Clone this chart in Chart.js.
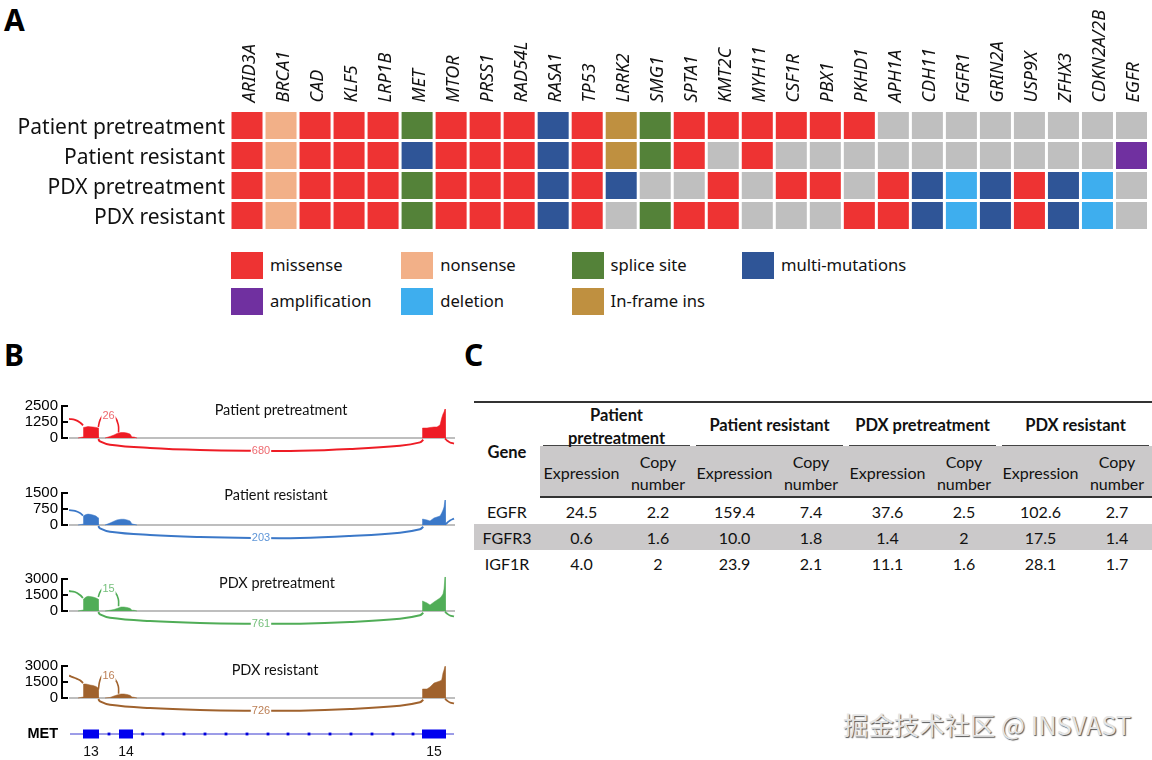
<!DOCTYPE html>
<html>
<head>
<meta charset="utf-8">
<script src="https://cdn.jsdelivr.net/npm/chart.js@4/dist/chart.umd.min.js"></script>
<style>
  html, body { margin: 0; padding: 0; background: #fff; }
  #page { position: relative; width: 1152px; height: 760px; overflow: hidden; color: #111; }
  canvas { position: absolute; left: 0; }
  .panel { position: absolute; font: bold 30px "Noto Sans", sans-serif; line-height: 34px; color: #000; }
  #legend { position: absolute; left: 231px; top: 252px; display: grid; grid-template-columns: repeat(4, 170.3px); grid-auto-rows: 36px; font: 16.6px "Noto Sans", sans-serif; }
  #legend div { display: flex; align-items: flex-start; line-height: 25px; white-space: nowrap; }
  #legend i { display: block; width: 32px; height: 27px; margin-right: 7px; }
  #tableC { position: absolute; left: 474px; top: 401px; width: 678px; border-collapse: separate; border-spacing: 0; table-layout: fixed; font: 16px Lato, sans-serif; text-align: center; border-top: 2px solid #333; }
  #tableC td, #tableC th { padding: 0; }
  #tableC th { font-weight: bold; font-size: 16.5px; line-height: 23px; }
  #tableC .group > div { height: 43px; margin: 0 3px; padding-top: 2px; border-bottom: 1.5px solid #444; display: flex; align-items: center; justify-content: center; box-sizing: border-box; overflow: visible; }
  #tableC .sub td { height: 46px; padding-top: 4px; background: #cbc9ca; border-bottom: 2px solid #333; line-height: 22px; }
  #tableC .body td { height: 25px; padding-top: 1px; line-height: 25px; }
  #tableC .band td { background: #cbc9ca; }
  #watermark { position: absolute; left: 843px; top: 706px; font: 25.4px "Noto Sans CJK SC", sans-serif; color: #e4e4e4; text-shadow: 1px 1px 1px #555; white-space: nowrap; }
</style>
</head>
<body>
<div id="page">
  <div class="panel" style="left:4px;top:3px">A</div>
  <div class="panel" style="left:4px;top:338px">B</div>
  <div class="panel" style="left:464px;top:338px">C</div>
  <canvas id="heatmap" width="1152" height="240" style="top:0"></canvas>
  <div id="legend"></div>
  <canvas id="sashimi1" width="455" height="84" style="top:384px"></canvas>
  <canvas id="sashimi2" width="455" height="84" style="top:471px"></canvas>
  <canvas id="sashimi3" width="455" height="84" style="top:557px"></canvas>
  <canvas id="sashimi4" width="455" height="84" style="top:644px"></canvas>
  <canvas id="metTrack" width="455" height="40" style="top:720px"></canvas>
  <table id="tableC"></table>
  <div id="watermark">掘金技术社区 @ INSVAST</div>
</div>
<script>
// Panel A data
const genes = ['ARID3A', 'BRCA1', 'CAD', 'KLF5', 'LRP1B', 'MET', 'MTOR', 'PRSS1', 'RAD54L', 'RASA1', 'TP53', 'LRRK2', 'SMG1', 'SPTA1', 'KMT2C', 'MYH11', 'CSF1R', 'PBX1', 'PKHD1', 'APH1A', 'CDH11', 'FGFR1', 'GRIN2A', 'USP9X', 'ZFHX3', 'CDKN2A/2B', 'EGFR'];
const samples = ['Patient pretreatment', 'Patient resistant', 'PDX pretreatment', 'PDX resistant'];
const patientPreCells = ['missense', 'nonsense', 'missense', 'missense', 'missense', 'splice site', 'missense', 'missense', 'missense', 'multi-mutations', 'missense', 'In-frame ins', 'splice site', 'missense', 'missense', 'missense', 'missense', 'missense', 'missense', '', '', '', '', '', '', '', ''];
const patientResCells = ['missense', 'nonsense', 'missense', 'missense', 'missense', 'multi-mutations', 'missense', 'missense', 'missense', 'multi-mutations', 'missense', 'In-frame ins', 'splice site', 'missense', '', 'missense', '', '', '', '', '', '', '', '', '', '', 'amplification'];
const pdxPreCells = ['missense', 'nonsense', 'missense', 'missense', 'missense', 'splice site', 'missense', 'missense', 'missense', 'multi-mutations', 'missense', 'multi-mutations', '', '', 'missense', '', 'missense', 'missense', '', 'missense', 'multi-mutations', 'deletion', 'multi-mutations', 'missense', 'multi-mutations', 'deletion', ''];
const pdxResCells = ['missense', 'nonsense', 'missense', 'missense', 'missense', 'splice site', 'missense', 'missense', 'missense', 'multi-mutations', 'missense', '', 'splice site', 'missense', 'missense', '', '', '', 'missense', 'missense', 'multi-mutations', 'deletion', 'multi-mutations', 'missense', 'multi-mutations', 'deletion', ''];
const legendOrder = ['missense', 'nonsense', 'splice site', 'multi-mutations', 'amplification', 'deletion', 'In-frame ins'];
const mutationColors = { 'missense': '#ee3333', 'nonsense': '#f2b088', 'splice site': '#548239', 'multi-mutations': '#2f5597', 'amplification': '#7030a0', 'deletion': '#3eaeee', 'In-frame ins': '#bf9040', '': '#bfbfbf' };

// Panel B data, x is position along the MET region, y is read count
const leftTailX = [0, 6, 11, 14];
const exon13X = [9, 14, 14.5, 17, 19, 21, 24, 27, 29, 29.5];
const exon14X = [36, 41, 45, 48, 52, 55, 58, 61, 63, 65, 68];
const exon15X = [353, 353.5, 358, 361, 365, 368, 371, 372.7, 374, 375, 376, 376.5];
const skipArcX = [29.3, 31, 41, 81, 131, 183, 231, 281, 331, 351, 354.3];
const loopArcX = [29.3, 31, 34.3, 39.3, 46, 49.3, 49.6];
const rightTailX = [376, 378, 381, 385];

const p1Ticks = [0, 1250, 2500];
const p1Tail = [1500, 1420, 1220, 990];
const p1Exon13 = [0, 80, 820, 860, 900, 880, 860, 830, 790, 0];
const p1Exon14 = [0, 120, 235, 350, 430, 430, 390, 310, 80, 80, 0];
const p1Exon15 = [0, 780, 780, 820, 860, 860, 1010, 1560, 1870, 2030, 2260, 0];
const p1SkipArc = [-78, -260, -520, -780, -940, -1000, -1000, -860, -600, -340, -130];
const p1LoopArc = [860, 1400, 1800, 1930, 1640, 1015, 430];
const p1RightTail = [-40, -195, -350, -430];

const p2Ticks = [0, 750, 1500];
const p2Tail = [700, 660, 560, 445];
const p2Exon13 = [0, 40, 430, 490, 510, 500, 470, 420, 340, 0];
const p2Exon14 = [0, 90, 180, 240, 270, 270, 240, 190, 50, 30, 0];
const p2Exon15 = [0, 280, 235, 190, 330, 375, 420, 560, 700, 845, 1170, 0];
const p2SkipArc = [-47, -155, -315, -470, -565, -610, -610, -515, -360, -200, -80];
const p2LoopArc = [];
const p2RightTail = [25, 95, 210, 300];

const p3Ticks = [0, 1500, 3000];
const p3Tail = [1875, 1780, 1500, 1220];
const p3Exon13 = [0, 90, 1120, 1310, 1380, 1360, 1310, 1220, 1120, 0];
const p3Exon14 = [0, 70, 140, 230, 375, 375, 330, 250, 70, 70, 0];
const p3Exon15 = [0, 940, 750, 560, 845, 1030, 1220, 1400, 1600, 2060, 3190, 0];
const p3SkipArc = [-94, -310, -630, -940, -1125, -1190, -1190, -1030, -720, -400, -160];
const p3LoopArc = [1310, 1780, 2160, 2320, 1780, 1125, 440];
const p3RightTail = [-50, -235, -420, -515];

const p4Ticks = [0, 1500, 3000];
const p4Tail = [2090, 1875, 1660, 1400];
const p4Exon13 = [0, 90, 1310, 1310, 1270, 1220, 1170, 1080, 940, 0];
const p4Exon14 = [0, 50, 190, 280, 375, 375, 330, 250, 90, 70, 0];
const p4Exon15 = [0, 845, 845, 1030, 1400, 1500, 1600, 1690, 2340, 2625, 2970, 0];
const p4SkipArc = [-94, -310, -630, -940, -1125, -1190, -1190, -1030, -720, -400, -160];
const p4LoopArc = [780, 1690, 2250, 2340, 1780, 1100, 400];
const p4RightTail = [-50, -235, -420, -515];

const skipCounts = ['680', '203', '761', '726'];
const loopCounts = ['26', '', '15', '16'];

const exonNames = ['13', '14', '15'];
const exonStarts = [14, 50, 353];
const exonEnds = [30, 64, 377];
const intronMarks = [40, 73.7, 94, 115, 136, 157, 178, 199, 219, 240, 261, 282, 303, 324, 344];

// Panel C data
const tableGenes = ['EGFR', 'FGFR3', 'IGF1R'];
const p1Expression = ['24.5', '0.6', '4.0'];
const p1Copy = ['2.2', '1.6', '2'];
const p2Expression = ['159.4', '10.0', '23.9'];
const p2Copy = ['7.4', '1.8', '2.1'];
const p3Expression = ['37.6', '1.4', '11.1'];
const p3Copy = ['2.5', '2', '1.6'];
const p4Expression = ['102.6', '17.5', '28.1'];
const p4Copy = ['2.7', '1.4', '1.7'];

Chart.defaults.animation = false;
Chart.defaults.responsive = false;
Chart.defaults.layout.autoPadding = false;
Chart.defaults.plugins.legend.display = false;
Chart.defaults.plugins.tooltip.enabled = false;

// Fixed size axes: tick label overhang must not shrink the plot
const fixAxis = (scale, size) => {
  if (scale.isHorizontal()) scale.height = size;
  else scale.width = size;
  scale.paddingTop = scale.paddingBottom = scale.paddingLeft = scale.paddingRight = 0;
};

// Panel A
const cellRows = [patientPreCells, patientResCells, pdxPreCells, pdxResCells];

new Chart(document.getElementById('heatmap'), {
  type: 'bar',
  data: {
    labels: genes,
    datasets: cellRows.map((cells, i) => ({
      label: samples[i],
      data: genes.map(() => 1),
      backgroundColor: cells.map(c => mutationColors[c]),
      borderColor: '#fff',
      borderWidth: 1.5,
      borderSkipped: false,
      inflateAmount: 0,
      categoryPercentage: 1,
      barPercentage: 1
    }))
  },
  options: {
    layout: { padding: { right: 3.5, bottom: 9.5 } },
    scales: {
      x: {
        position: 'top',
        stacked: true,
        grid: { display: false, drawTicks: false },
        border: { display: false },
        afterFit: scale => fixAxis(scale, 110.5),
        ticks: {
          autoSkip: false,
          minRotation: 90,
          maxRotation: 90,
          padding: 8,
          labelOffset: 24,
          color: '#111',
          font: { family: '"Noto Sans"', style: 'italic', size: 18 }
        }
      },
      y: {
        type: 'linear',
        stacked: true,
        reverse: true,
        min: 0,
        max: 4,
        grid: { display: false, drawTicks: false },
        border: { display: false },
        afterFit: scale => fixAxis(scale, 230),
        afterBuildTicks: scale => { scale.ticks = samples.map((s, i) => ({ value: i + 0.5 })); },
        ticks: {
          autoSkip: false,
          padding: 5,
          labelOffset: 3,
          color: '#111',
          font: { family: '"Noto Sans"', size: 21 },
          callback: value => samples[value - 0.5]
        }
      }
    }
  }
});

// Legend
const legendEl = document.getElementById('legend');
legendOrder.forEach(name => {
  const item = document.createElement('div');
  item.innerHTML = `<i style="background:${mutationColors[name]}"></i><span>${name}</span>`;
  legendEl.appendChild(item);
});

// Panel B
const zip = (xs, ys) => ys.map((y, i) => ({ x: xs[i], y: y }));

const bracketPlugin = {
  id: 'bracket',
  afterDraw(chart) {
    const ctx = chart.ctx;
    const yScale = chart.scales.y;
    const x = chart.chartArea.left - 7;
    ctx.save();
    ctx.strokeStyle = '#000';
    ctx.lineWidth = 2;
    ctx.beginPath();
    ctx.moveTo(x, yScale.getPixelForValue(yScale.ticks[0].value) + 1);
    ctx.lineTo(x, yScale.getPixelForValue(yScale.ticks[yScale.ticks.length - 1].value) - 1);
    yScale.ticks.forEach(t => {
      const y = yScale.getPixelForValue(t.value);
      ctx.moveTo(x, y);
      ctx.lineTo(x + 6, y);
    });
    ctx.stroke();
    ctx.restore();
  }
};

function countLabel(chart, text, xValue, yValue, color) {
  if (!text) return;
  const ctx = chart.ctx;
  const x = chart.scales.x.getPixelForValue(xValue);
  const y = chart.scales.y.getPixelForValue(yValue);
  ctx.font = '11px "Liberation Sans"';
  const w = ctx.measureText(text).width + 2;
  ctx.fillStyle = '#fff';
  ctx.fillRect(x - w / 2, y - 5, w, 10);
  ctx.fillStyle = color;
  ctx.textAlign = 'center';
  ctx.textBaseline = 'middle';
  ctx.fillText(text, x, y);
}

function drawSashimi(canvasId, idx, color, labelColor, ticks, tail, exon13, exon14, exon15, skipArc, loopArc, rightTail, titleX, titleDrop) {
  const yMax = ticks[ticks.length - 1];
  const fillArea = (xs, ys) => ({
    data: zip(xs, ys), showLine: true, fill: 'origin', backgroundColor: color,
    borderColor: color, borderWidth: 0.5, pointRadius: 0
  });
  const curve = (xs, ys, width) => ({
    data: zip(xs, ys), showLine: true, tension: 0.4, borderColor: color,
    borderWidth: width, pointRadius: 0, fill: false
  });

  new Chart(document.getElementById(canvasId), {
    type: 'scatter',
    data: {
      datasets: [
        fillArea(exon13X, exon13),
        fillArea(exon14X, exon14),
        fillArea(exon15X, exon15),
        curve(leftTailX, tail, 1.8),
        curve(skipArcX, skipArc, 2),
        curve(loopArcX, loopArc, 1.6),
        curve(rightTailX, rightTail, 1.8),
        { data: [{ x: 0, y: 0 }, { x: 386, y: 0 }], showLine: true, borderColor: '#a8a8a8', borderWidth: 1.6, pointRadius: 0 }
      ]
    },
    options: {
      layout: { padding: { top: 4, bottom: 4 } },
      scales: {
        x: { display: false, min: 0, max: 386 },
        y: {
          min: yMax * -26 / 32,
          max: yMax * 50 / 32,
          grid: { display: false, drawTicks: false },
          border: { display: false },
          afterFit: scale => fixAxis(scale, 69),
          afterBuildTicks: scale => { scale.ticks = ticks.map(v => ({ value: v })); },
          ticks: {
            autoSkip: false,
            padding: 11,
            color: '#000',
            font: { family: '"Liberation Sans"', size: 15 },
            callback: value => String(value)
          }
        }
      }
    },
    plugins: [bracketPlugin, {
      id: 'sashimiText',
      afterDatasetsDraw(chart) {
        const ctx = chart.ctx;
        ctx.save();
        countLabel(chart, skipCounts[idx], 192, skipArc[5], labelColor);
        if (loopArc.length) countLabel(chart, loopCounts[idx], 39.5, loopArc[3] - yMax / 32 * 3, labelColor);
        ctx.fillStyle = '#111';
        ctx.font = '14.5px Lato';
        ctx.textAlign = 'center';
        ctx.textBaseline = 'middle';
        ctx.fillText(samples[idx], chart.scales.x.getPixelForValue(titleX), chart.chartArea.top + titleDrop);
        ctx.restore();
      }
    }]
  });
}

drawSashimi('sashimi1', 0, '#ee1c25', '#ee6a70', p1Ticks, p1Tail, p1Exon13, p1Exon14, p1Exon15, p1SkipArc, p1LoopArc, p1RightTail, 212, 22);
drawSashimi('sashimi2', 1, '#3b78c8', '#5f96d8', p2Ticks, p2Tail, p2Exon13, p2Exon14, p2Exon15, p2SkipArc, p2LoopArc, p2RightTail, 207, 20);
drawSashimi('sashimi3', 2, '#50ad57', '#76c07c', p3Ticks, p3Tail, p3Exon13, p3Exon14, p3Exon15, p3SkipArc, p3LoopArc, p3RightTail, 208, 22);
drawSashimi('sashimi4', 3, '#a0622d', '#bc7f55', p4Ticks, p4Tail, p4Exon13, p4Exon14, p4Exon15, p4SkipArc, p4LoopArc, p4RightTail, 206, 22);

// Gene model under the sashimi plots
const exonMids = exonStarts.map((s, i) => (s + exonEnds[i]) / 2);

new Chart(document.getElementById('metTrack'), {
  type: 'scatter',
  data: {
    datasets: [
      ...exonStarts.map((s, i) => ({
        data: [{ x: s, y: 0 }, { x: exonEnds[i], y: 0 }],
        showLine: true, borderColor: '#0000ee', borderWidth: 9, borderCapStyle: 'butt', pointRadius: 0
      })),
      {
        data: intronMarks.map(x => ({ x: x, y: 0 })),
        pointStyle: 'rect', pointRadius: 2, backgroundColor: '#0000dd', borderWidth: 0
      },
      { data: [{ x: 1, y: 0 }, { x: 385, y: 0 }], showLine: true, borderColor: '#3a3ad0', borderWidth: 1, pointRadius: 0 }
    ]
  },
  options: {
    layout: { padding: { top: 4 } },
    scales: {
      x: {
        min: 0,
        max: 386,
        grid: { display: false, drawTicks: false },
        border: { display: false },
        afterFit: scale => fixAxis(scale, 16),
        afterBuildTicks: scale => { scale.ticks = exonMids.map(v => ({ value: v })); },
        ticks: {
          autoSkip: false,
          maxRotation: 0,
          padding: 0,
          color: '#111',
          font: { family: '"Liberation Sans"', size: 14 },
          callback: (value, index) => exonNames[index]
        }
      },
      y: {
        min: -10,
        max: 10,
        grid: { display: false, drawTicks: false },
        border: { display: false },
        afterFit: scale => fixAxis(scale, 69),
        afterBuildTicks: scale => { scale.ticks = [{ value: 0 }]; },
        ticks: {
          padding: 11,
          color: '#000',
          font: { family: '"Liberation Sans"', size: 14.5, weight: 'bold' },
          callback: () => 'MET'
        }
      }
    }
  }
});

// Panel C
const tableColumns = [p1Expression, p1Copy, p2Expression, p2Copy, p3Expression, p3Copy, p4Expression, p4Copy];
const groupNames = ['Patient<br>pretreatment', 'Patient resistant', 'PDX pretreatment', 'PDX resistant'];

let tableHtml = '<colgroup><col style="width:66px">' + '<col style="width:83px"><col style="width:70px">'.repeat(4) + '</colgroup>';
tableHtml += '<tr><th rowspan="2" style="vertical-align:middle;padding-top:4px">Gene</th>';
groupNames.forEach((name, i) => {
  tableHtml += `<th colspan="2" class="group"><div${i === 0 ? ' style="padding-top:6px"' : ''}>${name}</div></th>`;
});
tableHtml += '</tr><tr class="sub">';
groupNames.forEach(() => { tableHtml += '<td>Expression</td><td>Copy<br>number</td>'; });
tableHtml += '</tr>';
tableGenes.forEach((gene, r) => {
  tableHtml += `<tr class="body${r === 1 ? ' band' : ''}"><td>${gene}</td>`;
  tableColumns.forEach(col => { tableHtml += `<td>${col[r]}</td>`; });
  tableHtml += '</tr>';
});
document.getElementById('tableC').innerHTML = tableHtml;
</script>
</body>
</html>
